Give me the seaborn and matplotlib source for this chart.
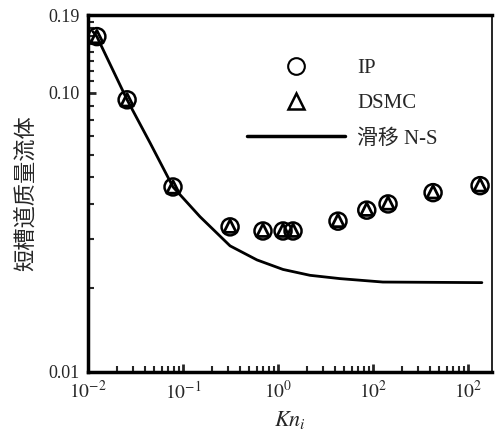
import matplotlib
matplotlib.use("Agg")
import matplotlib.pyplot as plt
from matplotlib.lines import Line2D
from matplotlib.ticker import FixedLocator, NullFormatter
import seaborn as sns
import pandas as pd

# ---- data ----
kn_points = [0.0124, 0.0258, 0.0785, 0.313, 0.695, 1.13, 1.44, 4.28, 8.6, 14.4, 42.9, 134]
flow_ip = [0.159, 0.0944, 0.046, 0.0331, 0.032, 0.032, 0.032, 0.0347, 0.038, 0.040, 0.0439, 0.0465]
flow_dsmc = [0.159, 0.0944, 0.046, 0.0333, 0.0322, 0.0322, 0.0322, 0.0349, 0.0383, 0.0403, 0.0442, 0.0468]

kn_ns = [0.0113, 0.0124, 0.0258, 0.045, 0.0785, 0.151, 0.313, 0.601, 1.129, 2.17, 4.5, 12.7, 140]
flow_ns = [0.1655, 0.159, 0.0944, 0.0662, 0.046, 0.036, 0.0283, 0.0252, 0.0233, 0.0222, 0.0216, 0.0210, 0.0209]

xtick_vals = [0.01, 0.1, 1, 10, 100]
xtick_labels = [r"$10^{-2}$", r"$10^{-1}$", r"$10^{0}$", r"$10^{2}$", r"$10^{2}$"]
ytick_vals = [0.01, 0.10, 0.19]
ytick_labels = ["0.01", "0.10", "0.19"]

label_ip = "IP"
label_dsmc = "DSMC"
label_ns = "滑移 N-S"
xlabel = r"$Kn_i$"
ylabel = "短槽道质量流体"

# ---- styling ----
sns.set_style("white")
plt.rcParams["font.family"] = ["Liberation Serif", "Noto Sans CJK SC", "DejaVu Sans"]
plt.rcParams["mathtext.fontset"] = "stix"

fig = plt.figure(figsize=(4.96, 4.37), dpi=100)
ax = fig.add_axes([88 / 496, 65 / 437, 404 / 496, 357 / 437])

df_ns = pd.DataFrame({"kn": kn_ns, "flow": flow_ns})
df_ip = pd.DataFrame({"kn": kn_points, "flow": flow_ip})
df_ds = pd.DataFrame({"kn": kn_points, "flow": flow_dsmc})

sns.lineplot(data=df_ns, x="kn", y="flow", ax=ax, color="black", lw=2.0, sort=False)
sns.scatterplot(data=df_ip, x="kn", y="flow", ax=ax, marker="o", s=150,
                facecolors="none", edgecolor="black", linewidth=1.8, zorder=3)
sns.scatterplot(data=df_ds, x="kn", y="flow", ax=ax, marker="^", s=80,
                facecolors="none", edgecolor="black", linewidth=2.0, zorder=4)

ax.set_xscale("log")
ax.set_yscale("log")
ax.set_xlim(0.01, 10 ** (2 + 24 / 95))
ax.set_ylim(0.01, 0.19)

ax.xaxis.set_major_locator(FixedLocator(xtick_vals))
ax.set_xticklabels(xtick_labels, fontsize=14)
ax.yaxis.set_major_locator(FixedLocator(ytick_vals))
ax.set_yticklabels(ytick_labels, fontsize=13)
yminor = [0.02, 0.03, 0.04, 0.05, 0.06, 0.07, 0.08, 0.09,
          0.11, 0.12, 0.13, 0.14, 0.15, 0.16, 0.17, 0.18]
ax.yaxis.set_minor_locator(FixedLocator(yminor))
ax.yaxis.set_minor_formatter(NullFormatter())
ax.xaxis.set_minor_formatter(NullFormatter())

ax.tick_params(which="major", direction="in", length=6, width=2, left=True, bottom=True, pad=6)
ax.tick_params(which="minor", direction="in", length=4, width=1.5, left=True, bottom=True)

for side in ["left", "bottom", "top"]:
    ax.spines[side].set_linewidth(2.5)
    ax.spines[side].set_color("black")
ax.spines["right"].set_linewidth(1.2)
ax.spines["right"].set_color("black")

ax.set_xlabel(xlabel, fontsize=16, labelpad=5)
ax.set_ylabel(ylabel, fontsize=16, family=["Noto Sans CJK SC", "DejaVu Sans"], labelpad=8)

handles = [
    Line2D([], [], ls="none", marker="o", ms=12, mfc="none", mec="black", mew=1.5),
    Line2D([], [], ls="none", marker="^", ms=11, mfc="none", mec="black", mew=1.8),
    Line2D([], [], color="black", lw=2.5),
]
leg = ax.legend(handles, [label_ip, label_dsmc, label_ns], loc="upper left",
                bbox_to_anchor=(159 / 404, 0.878), frameon=False, fontsize=15,
                handlelength=4.7, handletextpad=0.6, labelspacing=0.75,
                borderpad=0, borderaxespad=0)

fig.savefig("out.png", dpi=100)
